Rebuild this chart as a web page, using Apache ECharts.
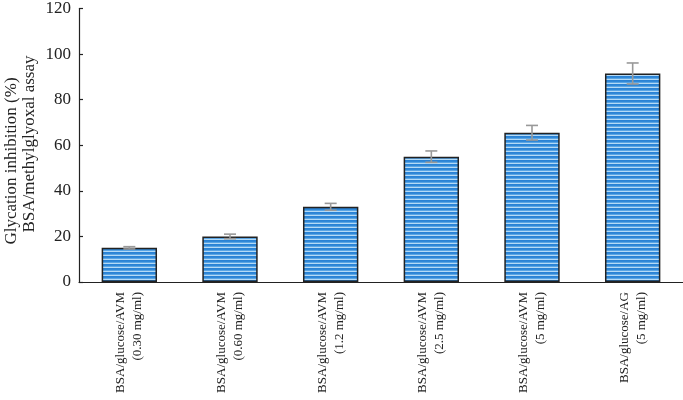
<!DOCTYPE html>
<html>
<head>
<meta charset="utf-8">
<script src="https://cdn.jsdelivr.net/npm/echarts@6/dist/echarts.min.js"></script>
<style>html,body{margin:0;padding:0;background:#fff}#c{width:683px;height:400px}</style>
</head>
<body>
<div id="c"></div>
<script>
var categories = [
  'BSA/glucose/AVM\n(0.30 mg/ml)',
  'BSA/glucose/AVM\n(0.60 mg/ml)',
  'BSA/glucose/AVM\n(1.2 mg/ml)',
  'BSA/glucose/AVM\n(2.5 mg/ml)',
  'BSA/glucose/AVM\n(5 mg/ml)',
  'BSA/glucose/AG\n(5 mg/ml)'
];
var values = [15, 20, 33, 55, 65.5, 91.5];
var errors = [0.5, 1, 1.5, 2.5, 3.2, 4.6];
var yTicks = [0, 20, 40, 60, 80, 100, 120];

var pc = document.createElement('canvas');
pc.width = 4; pc.height = 4;
var g = pc.getContext('2d');
var rows = ['#2a82d4', '#2f88d8', '#5aa5e4', '#b4daf6'];
for (var i = 0; i < 4; i++) { g.fillStyle = rows[i]; g.fillRect(0, i, 4, 1); }

var chart = echarts.init(document.getElementById('c'), null, {renderer: 'canvas'});
var font = 'Liberation Serif, Times New Roman, Tinos, serif';
chart.setOption({
  animation: false,
  grid: {left: 79, right: 0, top: 8, bottom: 118, containLabel: false},
  xAxis: {
    type: 'category',
    data: categories,
    boundaryGap: true,
    axisLine: {lineStyle: {color: '#222', width: 1.2}},
    axisTick: {inside: true, length: 6, lineStyle: {color: '#222', width: 1.2}},
    axisLabel: {rotate: 90, margin: 10, fontFamily: font, fontSize: 13, color: '#222', lineHeight: 17, interval: 0}
  },
  yAxis: {
    type: 'value',
    min: 0, max: 120, interval: 20,
    axisLine: {show: true, lineStyle: {color: '#222', width: 1.2}},
    axisTick: {show: true, inside: true, length: 4, lineStyle: {color: '#222', width: 1.2}},
    splitLine: {show: false},
    axisLabel: {margin: 8, fontFamily: font, fontSize: 17, color: '#222',
      formatter: function (v) { return yTicks.indexOf(v) >= 0 ? String(v) : ''; }}
  },
  graphic: [
    {type: 'text', rotation: Math.PI / 2, x: 12, y: 161,
      style: {text: 'Glycation inhibition (%)', fontFamily: font, fontSize: 17, fill: '#222', align: 'center', verticalAlign: 'middle'}},
    {type: 'text', rotation: Math.PI / 2, x: 30, y: 144,
      style: {text: 'BSA/methylglyoxal assay', fontFamily: font, fontSize: 17, fill: '#222', align: 'center', verticalAlign: 'middle'}}
  ],
  series: [
    {
      type: 'bar',
      data: values,
      barWidth: '55%',
      itemStyle: {color: {image: pc, repeat: 'repeat'}, borderColor: '#222', borderWidth: 1.5}
    },
    {
      type: 'custom',
      data: values.map(function (v, i) { return [i, v - errors[i], v + errors[i]]; }),
      renderItem: function (params, api) {
        var lo = api.coord([api.value(0), api.value(1)]);
        var hi = api.coord([api.value(0), api.value(2)]);
        var hw = 6;
        var st = {stroke: '#999', lineWidth: 1.6};
        return {type: 'group', children: [
          {type: 'line', shape: {x1: hi[0], y1: hi[1], x2: lo[0], y2: lo[1]}, style: st},
          {type: 'line', shape: {x1: hi[0] - hw, y1: hi[1], x2: hi[0] + hw, y2: hi[1]}, style: st},
          {type: 'line', shape: {x1: lo[0] - hw, y1: lo[1], x2: lo[0] + hw, y2: lo[1]}, style: st}
        ]};
      },
      z: 5
    }
  ]
});
</script>
</body>
</html>
